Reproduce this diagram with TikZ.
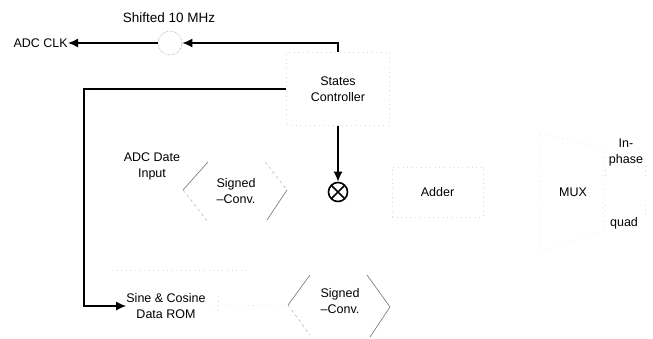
\documentclass[tikz,border=0pt]{standalone}
\usepackage{fontspec}
\setmainfont{Liberation Sans}
\usetikzlibrary{arrows.meta,calc}
\begin{document}
\begin{tikzpicture}[x=1pt,y=-1pt,
  lbl/.style={font=\fontsize{12.5}{14}\selectfont, align=center, inner sep=0pt},
  faint/.style={draw=black!15, loosely dotted, line width=0.6pt},
  hexedge/.style={draw=black!55, line width=0.6pt},
  hexedgelight/.style={draw=black!30, dashed, line width=0.5pt},
  wire/.style={draw=black, line width=1.5pt},
  arr/.style={wire, -{Latex[length=10pt,width=9pt]}}
]
\useasboundingbox (0,0) rectangle (653,338);

% texts and nodes
\node[lbl, font=\fontsize{13.5}{15}\selectfont] (shift) at (169,18) {Shifted 10 MHz};
\node[lbl, anchor=east] (clk) at (68,43) {ADC CLK};
\node[circle, minimum size=24pt, inner sep=0pt, draw=black!35, densely dotted, line width=0.6pt] (osc) at (170,43) {};
\node[lbl, faint, minimum width=103pt, minimum height=73pt] (sc) at (338,89) {States\\[2pt]Controller};
\node[circle, draw=black, line width=1.6pt, minimum size=19pt, inner sep=0pt] (mult) at (338,192) {};
\draw[line width=1.6pt] ($(mult.center)+(-6.7,-6.7)$) -- ($(mult.center)+(6.7,6.7)$)
                        ($(mult.center)+(-6.7,6.7)$) -- ($(mult.center)+(6.7,-6.7)$);
\node[lbl] (adc) at (152,166) {ADC Date\\[2pt]Input};
\node[lbl] (hexa) at (236,191) {Signed\\[2pt]–Conv.};
\node[lbl, faint, minimum width=91pt, minimum height=50pt] (adder) at (437.5,192) {Adder};
\node[lbl] (mux) at (573,192) {MUX};
\node[lbl] (inph) at (626,152) {In-\\[2pt]phase};
\node[lbl] (quad) at (624,223) {quad};
\node[lbl] (rom) at (166,306) {Sine \& Cosine\\[2pt]Data ROM};
\node[lbl] (hexb) at (340,301) {Signed\\[2pt]–Conv.};

% hexagon edges (signed conversion blocks)
\draw[hexedge] ($(hexa)+(-53,-1)$) -- ($(hexa)+(-28,-29)$);
\draw[hexedgelight] ($(hexa)+(-53,-1)$) -- ($(hexa)+(-28,31)$);
\draw[hexedgelight] ($(hexa)+(29,-29)$) -- ($(hexa)+(51,-1)$);
\draw[hexedge] ($(hexa)+(51,-1)$) -- ($(hexa)+(31,29)$);
\draw[hexedge] ($(hexb)+(-52,4)$) -- ($(hexb)+(-30,-26)$);
\draw[hexedgelight] ($(hexb)+(-52,4)$) -- ($(hexb)+(-30,34)$);
\draw[hexedge] ($(hexb)+(27,-26)$) -- ($(hexb)+(50,6)$);
\draw[hexedge] ($(hexb)+(50,6)$) -- ($(hexb)+(30,36)$);

% faint remnants of other outlines
\draw[faint] (540,133) -- (603,148) -- (603,232) -- (540,252) -- cycle;
\draw[faint] (605,170) -- (605,176) (605,205) -- (605,211);
\draw[faint] (645,166) -- (645,178) (645,205) -- (645,215);
\draw[faint] (112,270) -- (250,270);
\draw[faint] (218,296) -- (218,312);
\draw[faint] (rom.east) ++(6,0) -- ($(hexb)+(-52,4)$);

% black connectors
\draw[arr] (sc.north) -- (338,43) -- (osc.east);
\draw[arr] (osc.west) -- (clk.east);
\draw[arr] (sc.west) -- (84,89) -- (84,306) -- (rom.west);
\draw[arr] (sc.south) -- (mult.north);
\end{tikzpicture}
\end{document}
